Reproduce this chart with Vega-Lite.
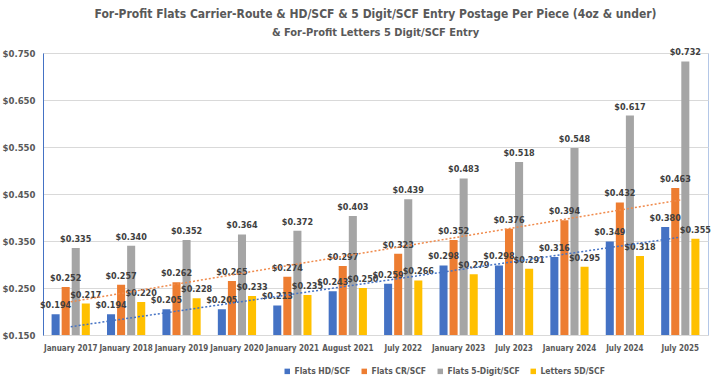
{
  "$schema": "https://vega.github.io/schema/vega-lite/v6.json",
  "width": 665,
  "height": 282,
  "autosize": {"type": "none"},
  "padding": {"left": 43, "top": 53, "right": 12, "bottom": 47},
  "background": "white",
  "config": {
    "font": "DejaVu Sans Condensed, Liberation Sans",
    "view": {"stroke": "#B4C7E7", "strokeWidth": 1}
  },
  "title": {
    "text": "For-Profit Flats Carrier-Route & HD/SCF  & 5 Digit/SCF Entry Postage Per Piece (4oz & under)",
    "subtitle": "& For-Profit Letters 5 Digit/SCF Entry",
    "anchor": "middle",
    "frame": "group",
    "fontSize": 12,
    "fontWeight": "bold",
    "color": "#595959",
    "subtitleFontSize": 11,
    "subtitleFontWeight": "bold",
    "subtitleColor": "#595959",
    "subtitlePadding": 6,
    "offset": 9
  },
  "datasets": {
    "d": [
      {"date": "January 2017", "series": "Flats HD/SCF", "value": 0.194},
      {"date": "January 2017", "series": "Flats CR/SCF", "value": 0.252},
      {"date": "January 2017", "series": "Flats 5-Digit/SCF", "value": 0.335},
      {"date": "January 2017", "series": "Letters 5D/SCF", "value": 0.217},
      {"date": "January 2018", "series": "Flats HD/SCF", "value": 0.194},
      {"date": "January 2018", "series": "Flats CR/SCF", "value": 0.257},
      {"date": "January 2018", "series": "Flats 5-Digit/SCF", "value": 0.340},
      {"date": "January 2018", "series": "Letters 5D/SCF", "value": 0.220},
      {"date": "January 2019", "series": "Flats HD/SCF", "value": 0.205},
      {"date": "January 2019", "series": "Flats CR/SCF", "value": 0.262},
      {"date": "January 2019", "series": "Flats 5-Digit/SCF", "value": 0.352},
      {"date": "January 2019", "series": "Letters 5D/SCF", "value": 0.228},
      {"date": "January 2020", "series": "Flats HD/SCF", "value": 0.205},
      {"date": "January 2020", "series": "Flats CR/SCF", "value": 0.265},
      {"date": "January 2020", "series": "Flats 5-Digit/SCF", "value": 0.364},
      {"date": "January 2020", "series": "Letters 5D/SCF", "value": 0.233},
      {"date": "January 2021", "series": "Flats HD/SCF", "value": 0.213},
      {"date": "January 2021", "series": "Flats CR/SCF", "value": 0.274},
      {"date": "January 2021", "series": "Flats 5-Digit/SCF", "value": 0.372},
      {"date": "January 2021", "series": "Letters 5D/SCF", "value": 0.235},
      {"date": "August 2021", "series": "Flats HD/SCF", "value": 0.243},
      {"date": "August 2021", "series": "Flats CR/SCF", "value": 0.297},
      {"date": "August 2021", "series": "Flats 5-Digit/SCF", "value": 0.403},
      {"date": "August 2021", "series": "Letters 5D/SCF", "value": 0.250},
      {"date": "July 2022", "series": "Flats HD/SCF", "value": 0.259},
      {"date": "July 2022", "series": "Flats CR/SCF", "value": 0.323},
      {"date": "July 2022", "series": "Flats 5-Digit/SCF", "value": 0.439},
      {"date": "July 2022", "series": "Letters 5D/SCF", "value": 0.266},
      {"date": "January 2023", "series": "Flats HD/SCF", "value": 0.298},
      {"date": "January 2023", "series": "Flats CR/SCF", "value": 0.352},
      {"date": "January 2023", "series": "Flats 5-Digit/SCF", "value": 0.483},
      {"date": "January 2023", "series": "Letters 5D/SCF", "value": 0.279},
      {"date": "July 2023", "series": "Flats HD/SCF", "value": 0.298},
      {"date": "July 2023", "series": "Flats CR/SCF", "value": 0.376},
      {"date": "July 2023", "series": "Flats 5-Digit/SCF", "value": 0.518},
      {"date": "July 2023", "series": "Letters 5D/SCF", "value": 0.291},
      {"date": "January 2024", "series": "Flats HD/SCF", "value": 0.316},
      {"date": "January 2024", "series": "Flats CR/SCF", "value": 0.394},
      {"date": "January 2024", "series": "Flats 5-Digit/SCF", "value": 0.548},
      {"date": "January 2024", "series": "Letters 5D/SCF", "value": 0.295},
      {"date": "July 2024", "series": "Flats HD/SCF", "value": 0.349},
      {"date": "July 2024", "series": "Flats CR/SCF", "value": 0.432},
      {"date": "July 2024", "series": "Flats 5-Digit/SCF", "value": 0.617},
      {"date": "July 2024", "series": "Letters 5D/SCF", "value": 0.318},
      {"date": "July 2025", "series": "Flats HD/SCF", "value": 0.380},
      {"date": "July 2025", "series": "Flats CR/SCF", "value": 0.463},
      {"date": "July 2025", "series": "Flats 5-Digit/SCF", "value": 0.732},
      {"date": "July 2025", "series": "Letters 5D/SCF", "value": 0.355}
    ]
  },
  "data": {"name": "d"},
  "layer": [
    {
      "encoding": {
        "x": {
          "field": "date", "type": "nominal", "sort": null,
          "scale": {"paddingInner": 0.31, "paddingOuter": 0.155},
          "axis": {"title": null, "labelAngle": 0, "labelFontSize": 8, "labelFontWeight": "bold", "labelColor": "#595959", "ticks": false, "domainColor": "#D9D9D9", "labelPadding": 9}
        },
        "xOffset": {
          "field": "series", "type": "nominal",
          "sort": ["Flats HD/SCF", "Flats CR/SCF", "Flats 5-Digit/SCF", "Letters 5D/SCF"],
          "scale": {"paddingInner": 0.2, "paddingOuter": 0}
        },
        "y": {
          "field": "value", "type": "quantitative",
          "scale": {"domain": [0.15, 0.75], "zero": false, "nice": false},
          "axis": {"title": null, "values": [0.15, 0.25, 0.35, 0.45, 0.55, 0.65, 0.75], "format": "$.3f", "labelFontSize": 9.5, "labelFontWeight": "bold", "labelColor": "#595959", "ticks": false, "domainColor": "#4472C4", "gridColor": "#D9D9D9", "labelPadding": 8}
        }
      },
      "layer": [
        {
          "mark": {"type": "bar", "clip": true},
          "encoding": {
            "color": {
              "field": "series", "type": "nominal",
              "scale": {"domain": ["Flats HD/SCF", "Flats CR/SCF", "Flats 5-Digit/SCF", "Letters 5D/SCF"], "range": ["#4472C4", "#ED7D31", "#A5A5A5", "#FFC000"]},
              "legend": {"title": null, "orient": "none", "legendX": 240, "legendY": 314, "direction": "horizontal", "symbolType": "square", "symbolSize": 30, "labelFontSize": 8.5, "labelFontWeight": "bold", "labelColor": "#595959", "columnPadding": 9, "labelOffset": 3}
            }
          }
        },
        {
          "mark": {"type": "text", "dy": -9, "fontSize": 9, "fontWeight": "bold", "color": "#404040"},
          "encoding": {
            "text": {"field": "value", "type": "quantitative", "format": "$.3f"}
          }
        }
      ]
    },
    {
      "transform": [
        {"filter": {"field": "series", "oneOf": ["Flats HD/SCF", "Flats CR/SCF"]}},
        {"window": [{"op": "row_number", "as": "idx"}], "groupby": ["series"]},
        {"regression": "value", "on": "idx", "groupby": ["series"]}
      ],
      "mark": {"type": "line", "strokeDash": [2, 2], "strokeWidth": 1.5},
      "encoding": {
        "x": {"field": "idx", "type": "quantitative", "scale": {"domain": [0.5, 12.5], "nice": false, "zero": false}, "axis": null},
        "y": {"field": "value", "type": "quantitative"},
        "stroke": {
          "field": "series", "type": "nominal",
          "scale": {"domain": ["Flats HD/SCF", "Flats CR/SCF"], "range": ["#4472C4", "#F08A4B"]},
          "legend": null
        }
      }
    }
  ],
  "resolve": {"scale": {"x": "independent"}}
}
